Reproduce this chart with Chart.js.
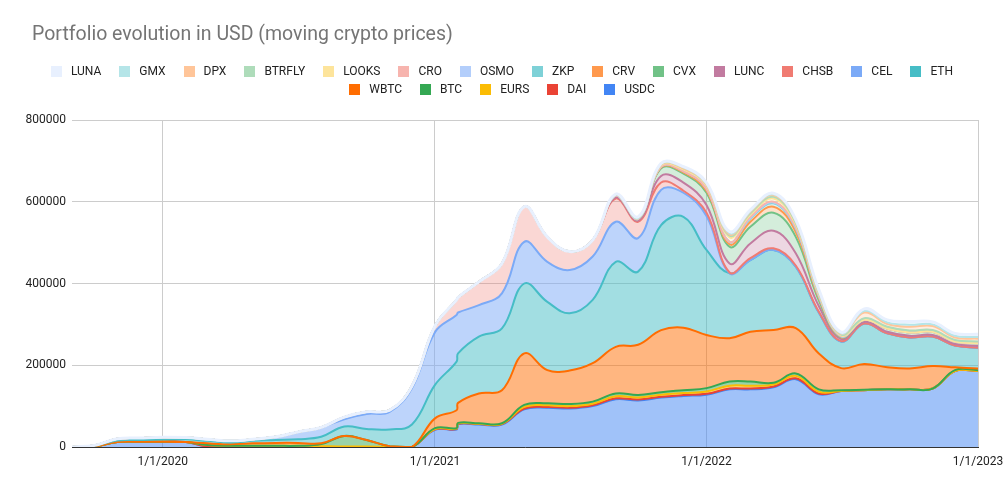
<!DOCTYPE html>
<html>
<head>
<meta charset="utf-8">
<title>Portfolio evolution in USD</title>
<script src="https://cdn.jsdelivr.net/npm/chart.js@4.4.1/dist/chart.umd.min.js"></script>
<style>
  body { margin: 0; background: #fff; font-family: Roboto, Arial, sans-serif; }
  #wrap { position: relative; width: 1005px; height: 492px; }
  #portfolioChart { position: absolute; left: 0; top: 0; }
  .chart-title { position: absolute; left: 32px; top: 22px; font-size: 19.5px; color: #757575; white-space: nowrap; }
  #legend { position: absolute; left: 32px; top: 62px; width: 940px; display: flex; flex-wrap: wrap; justify-content: center; }
  .legend-item { display: flex; align-items: center; height: 18px; margin: 0 9px; font-size: 12px; color: #222; }
  .legend-swatch { width: 11px; height: 11px; margin-right: 9px; }
</style>
</head>
<body>
<div id="wrap">
  <canvas id="portfolioChart" width="1005" height="492"></canvas>
  <div class="chart-title">Portfolio evolution in USD (moving crypto prices)</div>
  <div id="legend"></div>
</div>
<script>
// Sample dates (monthly, plus the extra snapshot at the end of January 2021)
const dates = [
    '2019-09-01', '2019-10-01', '2019-11-01', '2019-12-01',
    '2020-01-01', '2020-02-01', '2020-03-01', '2020-04-01', '2020-05-01', '2020-06-01',
    '2020-07-01', '2020-08-01', '2020-09-01', '2020-10-01', '2020-11-01', '2020-12-01',
    '2021-01-01', '2021-01-30', '2021-02-01', '2021-03-01', '2021-04-01', '2021-05-01', '2021-06-01',
    '2021-07-01', '2021-08-01', '2021-09-01', '2021-10-01', '2021-11-01', '2021-12-01',
    '2022-01-01', '2022-02-01', '2022-03-01', '2022-04-01', '2022-05-01', '2022-06-01',
    '2022-07-01', '2022-08-01', '2022-09-01', '2022-10-01', '2022-11-01', '2022-12-01',
    '2023-01-01'
];

const xTickDates = ['2020-01-01', '2021-01-01', '2022-01-01', '2023-01-01'];
const xRange = ['2019-09-01', '2023-01-01'];
const yTicks = [0, 200000, 400000, 600000, 800000];

// Holdings in USD per coin (stack order: bottom first)
const usdc = [0, 2000, 12000, 13000, 13000, 12000, 1000, 0, 0, 0, 0, 0, 0, 0, 0, 0,
    42000, 43000, 56000, 55000, 55000, 92000, 96000, 94000, 100000, 117000, 114000, 121000, 125000,
    128000, 141000, 141000, 146000, 166000, 129000, 137000, 139000, 141000, 141000, 143000, 186000, 186000];
const dai = [0, 0, 0, 0, 0, 0, 0, 0, 0, 0, 0, 0, 0, 0, 0, 0,
    1000, 1000, 1000, 1000, 1000, 2000, 2000, 2000, 2000, 2000, 2000, 2000, 2000,
    2000, 2000, 2000, 2000, 2000, 2000, 0, 0, 0, 0, 0, 0, 0];
const eurs = [0, 0, 0, 0, 0, 0, 4000, 3000, 3000, 3000, 3000, 2000, 1000, 1000, 0, 0,
    1000, 1000, 1000, 1000, 1000, 4000, 4000, 4000, 4000, 5000, 5000, 5000, 5000,
    6000, 7000, 7000, 5000, 6000, 4000, 0, 0, 0, 0, 0, 0, 0];
const btc = [0, 0, 0, 0, 0, 0, 0, 0, 0, 0, 0, 5000, 26000, 16000, 2000, 0,
    2000, 1000, 1000, 1000, 1000, 5000, 5000, 5000, 5000, 7000, 6000, 6000, 7000,
    8000, 10000, 10000, 4000, 6000, 6000, 2000, 1000, 0, 0, 0, 2000, 2000];
const wbtc = [0, 0, 0, 0, 0, 0, 4000, 4000, 6000, 7000, 7000, 2000, 0, 0, 0, 0,
    24000, 44000, 49000, 73000, 81000, 126000, 81000, 82000, 94000, 114000, 123000, 152000, 153000,
    130000, 106000, 122000, 129000, 111000, 88000, 54000, 63000, 54000, 51000, 55000, 7000, 4000];
const eth = [0, 1000, 4000, 4000, 6000, 7000, 6000, 4000, 6000, 7000, 9000, 16000, 23000, 27000, 41000, 55000,
    82000, 119000, 121000, 139000, 151000, 171000, 167000, 140000, 155000, 208000, 179000, 257000, 271000,
    208000, 159000, 175000, 196000, 150000, 100000, 65000, 99000, 83000, 76000, 72000, 53000, 51000];
const cel = [0, 1000, 4000, 5000, 5000, 4000, 4000, 4000, 4000, 8000, 18000, 23000, 18000, 37000, 43000, 89000,
    129000, 114000, 100000, 77000, 86000, 102000, 98000, 106000, 106000, 98000, 82000, 86000, 59000,
    83000, 0, 0, 0, 0, 0, 0, 0, 0, 0, 0, 0, 0];
const chsb = [0, 0, 0, 0, 0, 0, 0, 0, 0, 0, 0, 0, 5000, 5000, 4000, 5000,
    15000, 37000, 37000, 57000, 73000, 86000, 61000, 45000, 40000, 57000, 40000, 18000, 5000,
    8000, 2000, 5000, 4000, 3000, 2000, 1000, 0, 0, 0, 0, 0, 0];
const lunc = [0, 0, 0, 0, 0, 0, 0, 0, 0, 0, 0, 0, 0, 0, 0, 0,
    0, 0, 0, 0, 0, 0, 0, 0, 0, 3000, 3000, 16000, 20000,
    19000, 22000, 36000, 43000, 30000, 14000, 5000, 4000, 4000, 4000, 4000, 4000, 4000];
const cvx = [0, 0, 0, 0, 0, 0, 0, 0, 0, 0, 0, 0, 0, 0, 0, 0,
    0, 0, 0, 0, 0, 0, 0, 0, 0, 4000, 4000, 19000, 22000,
    30000, 41000, 41000, 44000, 40000, 14000, 4000, 5000, 8000, 8000, 8000, 6000, 7000];
const crv = [0, 0, 0, 0, 0, 0, 0, 0, 0, 0, 0, 0, 0, 0, 0, 0,
    0, 0, 0, 0, 0, 0, 0, 0, 0, 0, 0, 2000, 3000,
    5000, 6000, 12000, 15000, 12000, 5000, 1000, 0, 0, 0, 0, 0, 0];
const zkp = [0, 0, 0, 0, 0, 0, 0, 0, 0, 0, 0, 0, 0, 0, 0, 0,
    0, 0, 0, 0, 0, 0, 0, 0, 0, 0, 0, 2000, 3000,
    5000, 6000, 8000, 8000, 8000, 4000, 1000, 0, 0, 0, 0, 0, 0];
const osmo = [0, 0, 0, 0, 0, 0, 0, 0, 0, 0, 0, 0, 0, 0, 0, 0,
    0, 0, 0, 0, 0, 0, 0, 0, 0, 0, 0, 0, 0,
    0, 0, 2000, 2000, 2000, 2000, 1000, 0, 0, 0, 0, 0, 0];
const cro = [0, 0, 0, 0, 0, 0, 0, 0, 0, 0, 0, 0, 0, 0, 0, 0,
    0, 0, 0, 0, 0, 0, 0, 0, 0, 0, 0, 0, 0,
    0, 0, 2000, 2000, 2000, 2000, 1000, 0, 0, 0, 0, 0, 0];
const looks = [0, 0, 0, 0, 0, 0, 0, 0, 0, 0, 0, 0, 0, 0, 0, 0,
    0, 0, 0, 0, 0, 0, 0, 0, 0, 2000, 2000, 3000, 4000,
    7000, 11000, 5000, 8000, 6000, 2000, 1000, 0, 0, 0, 0, 0, 0];
const btrfly = [0, 0, 0, 0, 0, 0, 0, 0, 0, 0, 0, 0, 0, 0, 0, 0,
    0, 0, 0, 0, 0, 0, 0, 0, 0, 0, 0, 2000, 3000,
    3000, 4000, 4000, 4000, 4000, 3000, 2000, 4000, 4000, 5000, 4000, 4000, 4000];
const dpx = [0, 0, 0, 0, 0, 0, 0, 0, 0, 0, 0, 0, 0, 0, 0, 0,
    0, 0, 0, 0, 0, 0, 0, 0, 0, 0, 0, 0, 0,
    0, 3000, 3000, 4000, 4000, 3000, 2000, 14000, 7000, 9000, 10000, 6000, 7000];
const gmx = [0, 0, 0, 0, 0, 0, 0, 0, 0, 0, 0, 0, 0, 0, 0, 0,
    0, 0, 0, 0, 0, 0, 0, 0, 0, 0, 0, 1000, 2000,
    2000, 3000, 2000, 2000, 2000, 2000, 1000, 4000, 4000, 5000, 4000, 4000, 4000];
const luna = [0, 0, 0, 0, 0, 0, 0, 0, 0, 0, 0, 0, 0, 0, 0, 0,
    0, 0, 0, 0, 0, 0, 0, 0, 0, 2000, 3000, 2000, 2000,
    3000, 4000, 3000, 3000, 2000, 3000, 3000, 5000, 6000, 8000, 6000, 6000, 7000];

const seriesNames = ['USDC', 'DAI', 'EURS', 'BTC', 'WBTC', 'ETH', 'CEL', 'CHSB', 'LUNC', 'CVX',
    'CRV', 'ZKP', 'OSMO', 'CRO', 'LOOKS', 'BTRFLY', 'DPX', 'GMX', 'LUNA'];
const seriesValues = [usdc, dai, eurs, btc, wbtc, eth, cel, chsb, lunc, cvx,
    crv, zkp, osmo, cro, looks, btrfly, dpx, gmx, luna];

// Styling
const seriesColors = ['#4285f4', '#ea4335', '#fbbc04', '#34a853', '#ff6d01', '#46bdc6', '#7baaf7', '#f07b72', '#c27ba0', '#71c287',
    '#ff994d', '#7ed1d7', '#b3cefb', '#f7b4ae', '#fde49b', '#aedcba', '#ffc599', '#b5e5e8', '#e8f0fe'];
const fillOpacity = [0.5, 0.5, 0.5, 0.5, 0.5, 0.5, 0.5, 0.3, 0.3, 0.3,
    0.3, 0.3, 0.3, 0.3, 0.3, 0.3, 0.3, 0.3, 0.3];

function dayNumber(iso) {
    const [y, m, d] = iso.split('-').map(Number);
    return Date.UTC(y, m - 1, d) / 86400000;
}

function formatDay(day) {
    const date = new Date(day * 86400000);
    return `${date.getUTCMonth() + 1}/${date.getUTCDate()}/${date.getUTCFullYear()}`;
}

function withAlpha(hex, alpha) {
    const n = parseInt(hex.slice(1), 16);
    return `rgba(${(n >> 16) & 255}, ${(n >> 8) & 255}, ${n & 255}, ${alpha})`;
}

// Stack the series ourselves so the upper series can be drawn last
const xValues = dates.map(dayNumber);
const running = dates.map(() => 0);
const datasets = seriesValues.map((values, i) => {
    const points = values.map((v, j) => {
        running[j] += v;
        return { x: xValues[j], y: running[j] };
    });
    return {
        label: seriesNames[i],
        data: points,
        borderColor: seriesColors[i],
        backgroundColor: withAlpha(seriesColors[i], fillOpacity[i]),
        borderWidth: i === seriesValues.length - 1 ? 3 : 2,
        pointRadius: 0,
        tension: 0.4,
        fill: i === 0 ? 'origin' : '-1',
        order: seriesValues.length - 1 - i
    };
});

// HTML legend, top series first like the original
const legendEl = document.getElementById('legend');
for (let i = seriesNames.length - 1; i >= 0; i--) {
    const item = document.createElement('div');
    item.className = 'legend-item';
    const swatch = document.createElement('span');
    swatch.className = 'legend-swatch';
    swatch.style.background = seriesColors[i];
    item.appendChild(swatch);
    item.appendChild(document.createTextNode(seriesNames[i]));
    legendEl.appendChild(item);
}

Chart.defaults.font.family = 'Roboto, Arial, sans-serif';
Chart.defaults.font.size = 12;
Chart.defaults.color = '#222';

new Chart(document.getElementById('portfolioChart'), {
    type: 'line',
    data: { datasets },
    options: {
        responsive: false,
        animation: false,
        devicePixelRatio: 1,
        layout: { padding: { top: 120, right: 27, left: 0, bottom: 0 } },
        plugins: {
            legend: { display: false },
            title: { display: false },
            tooltip: { enabled: false },
            filler: { drawTime: 'beforeDatasetsDraw' }
        },
        scales: {
            x: {
                type: 'linear',
                min: dayNumber(xRange[0]),
                max: dayNumber(xRange[1]),
                afterBuildTicks: scale => {
                    scale.ticks = xTickDates.map(d => ({ value: dayNumber(d) }));
                },
                afterFit: scale => {
                    scale.height = 45;
                    // keep the plot edge fixed; the last label may hang over the padding
                    scale.paddingLeft = 0;
                    scale.paddingRight = 0;
                },
                ticks: {
                    padding: 8,
                    maxRotation: 0,
                    callback: value => formatDay(value)
                },
                grid: { color: '#cccccc', drawTicks: false },
                border: { color: '#333333', width: 1 }
            },
            y: {
                min: 0,
                max: 800000,
                afterBuildTicks: scale => {
                    scale.ticks = yTicks.map(v => ({ value: v }));
                },
                afterFit: scale => { scale.width = 72; },
                ticks: { padding: 6, callback: value => String(value) },
                grid: { color: '#cccccc', drawTicks: false },
                border: { display: false }
            }
        }
    }
});
</script>
</body>
</html>
